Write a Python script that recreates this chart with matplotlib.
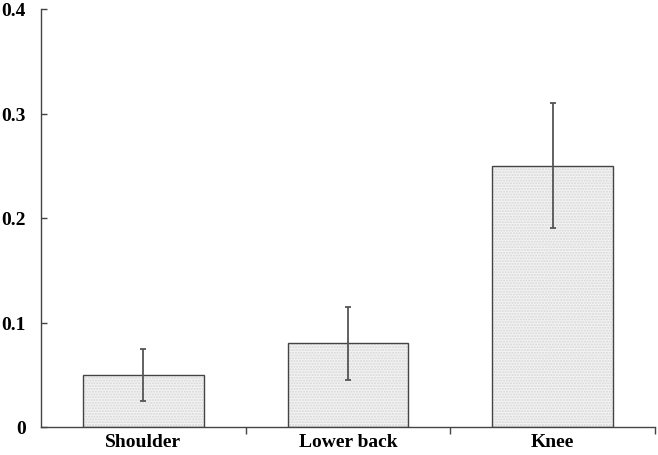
import matplotlib
matplotlib.use("Agg")
import matplotlib.pyplot as plt
import numpy as np

categories = ["Shoulder", "Lower back", "Knee"]
values = [0.05, 0.08, 0.25]
errors = [0.025, 0.035, 0.06]

plt.rcParams["font.family"] = "Liberation Serif"
plt.rcParams["font.weight"] = "bold"

fig = plt.figure(figsize=(6.58, 4.56), dpi=100)
ax = fig.add_axes([41 / 658, 28 / 456, 614 / 658, 418 / 456])

x = np.arange(len(categories))
# dotted fill first, then the dark outline on top
ax.bar(x, values, width=0.59, color="#f3f3f3", edgecolor="#d6d6d6",
       hatch="......", linewidth=0, zorder=2)
ax.bar(x, values, width=0.59, fill=False, edgecolor="#444444",
       linewidth=1.0, zorder=3)
ax.errorbar(x, values, yerr=errors, fmt="none", ecolor="#555555",
            elinewidth=1.3, capsize=2, capthick=1.3, zorder=4)

ax.set_xlim(-0.5, 2.5)
ax.set_ylim(0, 0.4)
ax.set_yticks([0, 0.1, 0.2, 0.3, 0.4])
ax.set_yticklabels(["0", "0.1", "0.2", "0.3", "0.4"])
ax.set_xticks(x)
ax.set_xticklabels(categories)
ax.set_xticks([0.5, 1.5, 2.5], minor=True)

ax.tick_params(axis="x", which="major", length=0, pad=4, labelsize=14)
ax.tick_params(axis="x", which="minor", direction="out", length=5,
               width=1, color="#444444")
ax.tick_params(axis="y", direction="in", length=4, width=1,
               color="#444444", pad=11, labelsize=14)

for side in ["top", "right"]:
    ax.spines[side].set_visible(False)
for side in ["left", "bottom"]:
    ax.spines[side].set_color("#444444")
    ax.spines[side].set_linewidth(1.0)

fig.savefig("out.png", dpi=100)
